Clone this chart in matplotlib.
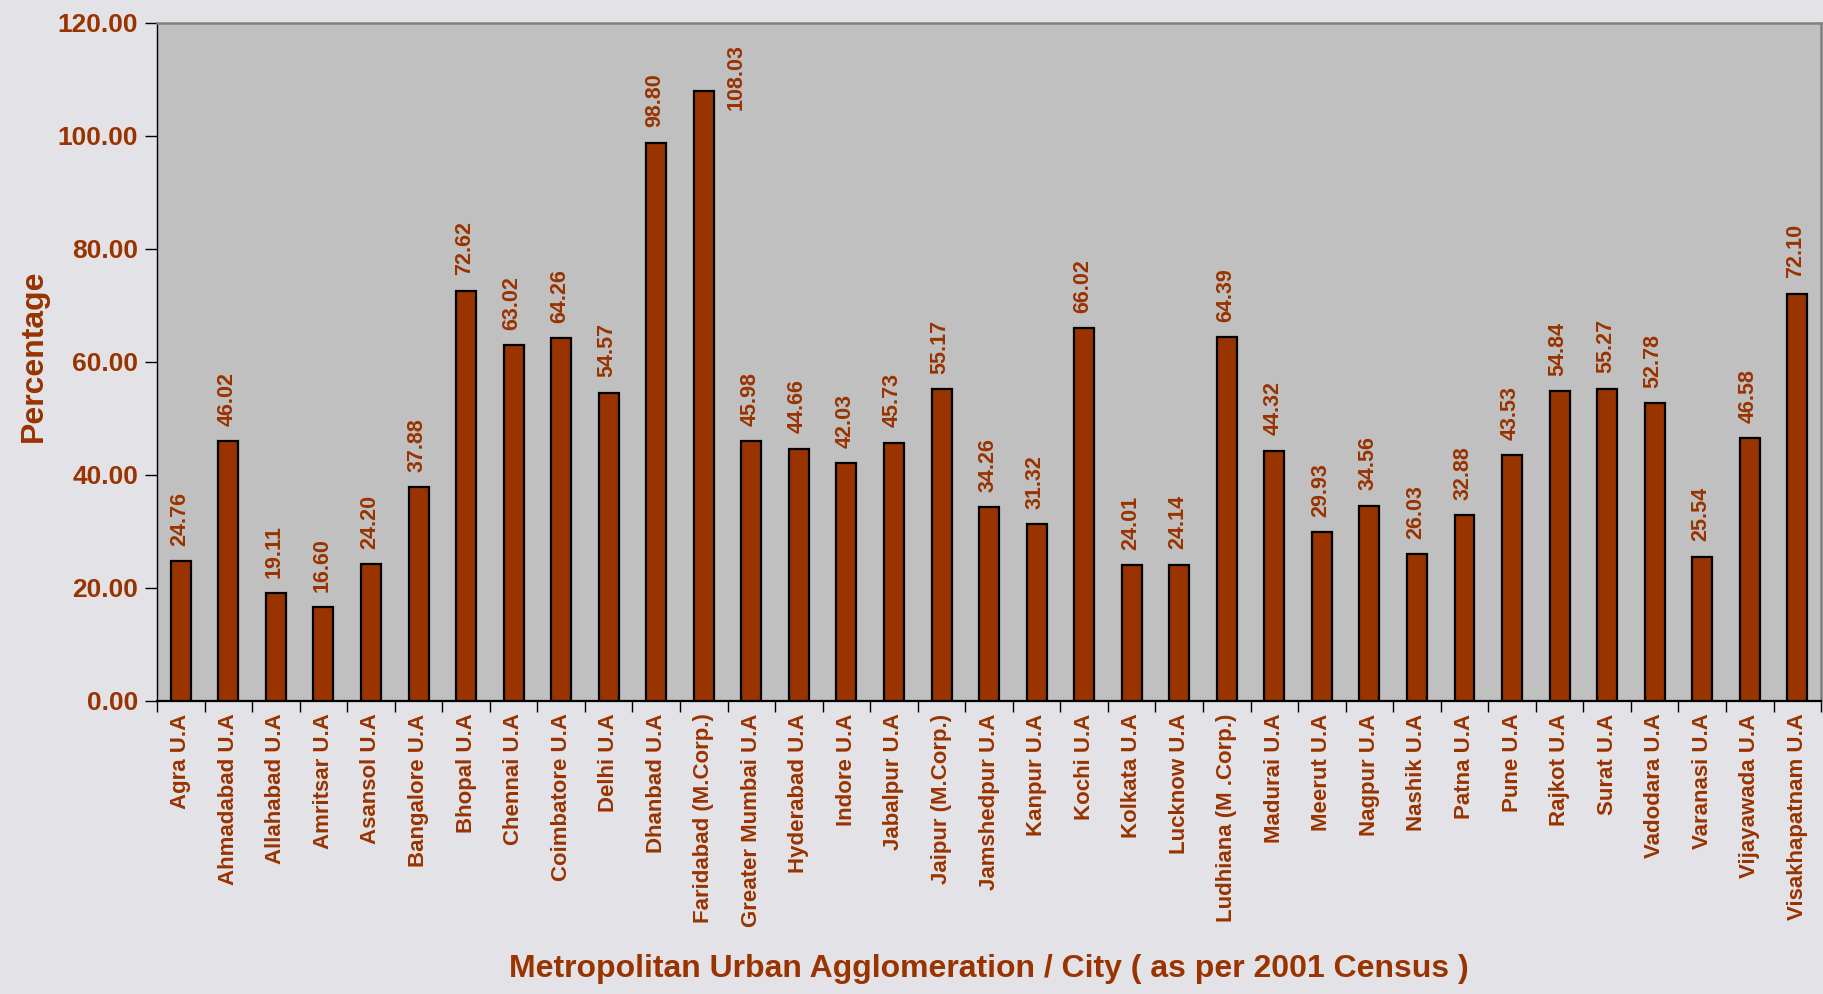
import matplotlib.pyplot as plt

plt.rcParams["font.family"] = ["Liberation Sans", "DejaVu Sans"]
plt.rcParams["font.weight"] = "bold"

CITIES = [
    "Agra U.A", "Ahmadabad U.A", "Allahabad U.A", "Amritsar U.A", "Asansol U.A",
    "Bangalore U.A", "Bhopal U.A", "Chennai U.A", "Coimbatore U.A", "Delhi U.A",
    "Dhanbad U.A", "Faridabad (M.Corp.)", "Greater Mumbai U.A", "Hyderabad U.A",
    "Indore U.A", "Jabalpur U.A", "Jaipur (M.Corp.)", "Jamshedpur U.A",
    "Kanpur U.A", "Kochi U.A", "Kolkata U.A", "Lucknow U.A", "Ludhiana (M .Corp.)",
    "Madurai U.A", "Meerut U.A", "Nagpur U.A", "Nashik U.A", "Patna U.A",
    "Pune U.A", "Rajkot U.A", "Surat U.A", "Vadodara U.A", "Varanasi U.A",
    "Vijayawada U.A", "Visakhapatnam U.A",
]
GROWTH = [
    24.76, 46.02, 19.11, 16.60, 24.20, 37.88, 72.62, 63.02, 64.26, 54.57,
    98.80, 108.03, 45.98, 44.66, 42.03, 45.73, 55.17, 34.26, 31.32, 66.02,
    24.01, 24.14, 64.39, 44.32, 29.93, 34.56, 26.03, 32.88, 43.53, 54.84,
    55.27, 52.78, 25.54, 46.58, 72.10,
]
Y_TICKS = [0, 20, 40, 60, 80, 100, 120]

TEXT_COLOR = "#993300"
BAR_COLOR = "#993300"

fig = plt.figure(figsize=(18.24, 9.94), dpi=100)
fig.patch.set_facecolor("#e3e3e7")
ax = fig.add_axes([0.0861, 0.2948, 0.9123, 0.6821])
ax.set_facecolor("#c0c0c0")

x = list(range(len(CITIES)))
ax.bar(x, GROWTH, width=0.42, color=BAR_COLOR, edgecolor="black", linewidth=1.6, zorder=3)

for i, v in enumerate(GROWTH):
    if v > 105:
        # label would run off the top, so it sits beside the bar
        ax.text(i + 0.67, 116.3, f"{v:.2f}", rotation=90, ha="center", va="top",
                fontsize=15.5, color=TEXT_COLOR, fontweight="bold")
    else:
        ax.text(i - 0.03, v + 2.7, f"{v:.2f}", rotation=90, ha="center", va="bottom",
                fontsize=15.5, color=TEXT_COLOR, fontweight="bold")

ax.set_xlim(-0.5, len(CITIES) - 0.5)
ax.set_ylim(0, 120)
ax.set_yticks(Y_TICKS, [f"{t:.2f}" for t in Y_TICKS])
ax.tick_params(axis="y", length=9, width=1, pad=4.5, labelsize=19, labelcolor=TEXT_COLOR)

ax.set_xticks([k - 0.5 for k in range(len(CITIES) + 1)], [""] * (len(CITIES) + 1))
ax.tick_params(axis="x", which="major", length=8, width=1)
ax.set_xticks(x, CITIES, minor=True)
ax.tick_params(axis="x", which="minor", length=0, pad=9, labelsize=16,
               labelcolor=TEXT_COLOR, labelrotation=90)
for lab in ax.get_xticklabels(minor=True) + ax.get_yticklabels():
    lab.set_fontweight("bold")

ax.spines["left"].set_color("black")
ax.spines["left"].set_linewidth(1.0)
ax.spines["bottom"].set_color("black")
ax.spines["bottom"].set_linewidth(1.6)
for side in ("top", "right"):
    ax.spines[side].set_color("#808080")
    ax.spines[side].set_linewidth(1.8)

fig.text(34 / 1824, 0.642, "Percentage", rotation=90, ha="center", va="center",
         fontsize=23, color=TEXT_COLOR, fontweight="bold")
fig.text(0.542, 0.025, "Metropolitan Urban Agglomeration / City ( as per 2001 Census )",
         ha="center", va="center", fontsize=23, color=TEXT_COLOR, fontweight="bold")

fig.savefig("out.png", dpi=100, facecolor=fig.get_facecolor())
